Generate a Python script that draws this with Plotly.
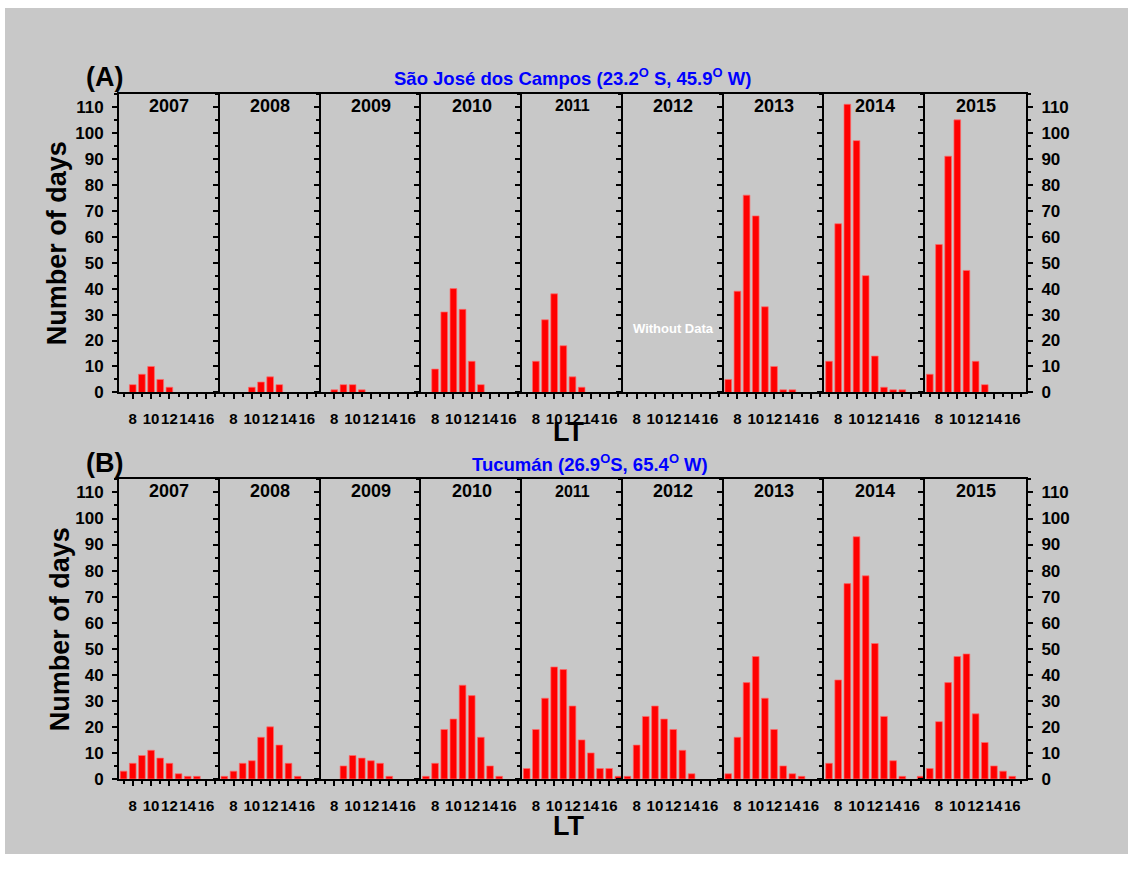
import plotly.graph_objects as go

W, H = 1128, 871

# Local time bins (hours) and years shown in each row of panels
lt_hours = [7, 8, 9, 10, 11, 12, 13, 14, 15, 16, 17]
years = [2007, 2008, 2009, 2010, 2011, 2012, 2013, 2014, 2015]

# São José dos Campos: number of days per LT bin
sjc_2007 = [0, 3, 7, 10, 5, 2, 0, 0, 0, 0, 0]
sjc_2008 = [0, 0, 0, 2, 4, 6, 3, 0, 0, 0, 0]
sjc_2009 = [0, 1, 3, 3, 1, 0, 0, 0, 0, 0, 0]
sjc_2010 = [0, 9, 31, 40, 32, 12, 3, 0, 0, 0, 0]
sjc_2011 = [0, 12, 28, 38, 18, 6, 2, 0, 0, 0, 0]
sjc_2012 = None  # no observations
sjc_2013 = [5, 39, 76, 68, 33, 10, 1, 1, 0, 0, 0]
sjc_2014 = [12, 65, 111, 97, 45, 14, 2, 1, 1, 0, 0]
sjc_2015 = [7, 57, 91, 105, 47, 12, 3, 0, 0, 0, 0]

# Tucumán: number of days per LT bin
tuc_2007 = [3, 6, 9, 11, 8, 6, 2, 1, 1, 0, 0]
tuc_2008 = [1, 3, 6, 7, 16, 20, 13, 6, 1, 0, 0]
tuc_2009 = [0, 0, 5, 9, 8, 7, 6, 1, 0, 0, 0]
tuc_2010 = [1, 6, 19, 23, 36, 32, 16, 5, 1, 0, 0]
tuc_2011 = [4, 19, 31, 43, 42, 28, 15, 10, 4, 4, 1]
tuc_2012 = [1, 13, 24, 28, 23, 19, 11, 2, 0, 0, 0]
tuc_2013 = [2, 16, 37, 47, 31, 19, 5, 2, 1, 0, 0]
tuc_2014 = [6, 38, 75, 93, 78, 52, 24, 7, 1, 0, 1]
tuc_2015 = [4, 22, 37, 47, 48, 25, 14, 5, 3, 1, 0]

sjc_counts = [sjc_2007, sjc_2008, sjc_2009, sjc_2010, sjc_2011,
              sjc_2012, sjc_2013, sjc_2014, sjc_2015]
tuc_counts = [tuc_2007, tuc_2008, tuc_2009, tuc_2010, tuc_2011,
              tuc_2012, tuc_2013, tuc_2014, tuc_2015]

row_titles = ["São José dos Campos (23.2<sup>O</sup> S, 45.9<sup>O</sup> W)",
              "Tucumán (26.9<sup>O</sup>S, 65.4<sup>O</sup> W)"]
row_tags = ["(A)", "(B)"]

BG = "#c8c8c8"
FONT = "Liberation Sans, Arial, sans-serif"

# panel geometry in pixels
LEFT, RIGHT = 119, 1026
ROWS = [(95, 397), (485, 788)]
PW = (RIGHT - LEFT) / 9
TITLE_X = [572, 590]
LT_OFFSET = [40, 48]


def fx(p):
    return p / W


def fy(p):
    return 1 - p / H


def label(xp, yp, text, size, color="black", angle=0):
    return dict(x=fx(xp), y=fy(yp), xref="paper", yref="paper",
                text=text, showarrow=False, textangle=angle,
                xanchor="center", yanchor="middle",
                font=dict(family=FONT, size=size, color=color))


fig = go.Figure()
layout = {}
annotations = []

for r, (top, bottom) in enumerate(ROWS):
    counts = sjc_counts if r == 0 else tuc_counts
    for i, yr in enumerate(years):
        k = r * 9 + i + 1
        xa = "x" if k == 1 else f"x{k}"
        ya = "y" if k == 1 else f"y{k}"
        data = counts[i]
        if data is None:
            xs, vs = [], []
        else:
            xs = [h for h, v in zip(lt_hours, data) if v > 0]
            vs = [v for v in data if v > 0]
        fig.add_trace(go.Bar(
            x=xs, y=vs, xaxis=xa, yaxis=ya, width=0.73,
            marker=dict(color="#ff0000", line=dict(color="#ff6a6a", width=0.7)),
            showlegend=False, hoverinfo="x+y",
        ))

        x0 = LEFT + i * PW
        x1 = LEFT + (i + 1) * PW
        layout["xaxis" if k == 1 else f"xaxis{k}"] = dict(
            domain=[fx(x0), fx(x1)], anchor=ya, range=[6.5, 17.5],
            showline=True, linecolor="black", linewidth=2, mirror=True,
            ticks="outside", ticklen=5, tickwidth=2, tickcolor="black",
            tick0=8, dtick=2, tickangle=0,
            minor=dict(ticks="outside", dtick=1, tick0=7, ticklen=3,
                       tickwidth=2, tickcolor="black", showgrid=False),
            tickfont=dict(family=FONT, size=15, color="black", weight="bold"),
            ticklabelstandoff=7,
            showgrid=False, zeroline=False, fixedrange=True,
        )
        last = i == 8
        layout["yaxis" if k == 1 else f"yaxis{k}"] = dict(
            domain=[fy(bottom), fy(top)], anchor=xa, range=[0, 115],
            showline=True, linecolor="black", linewidth=2,
            mirror="ticks" if last else False,
            side="right" if last else "left",
            ticks="outside", ticklen=5, tickwidth=2, tickcolor="black",
            tick0=0, dtick=10,
            minor=dict(ticks="outside", dtick=5, ticklen=3, tickwidth=2,
                       tickcolor="black", showgrid=False),
            showticklabels=(i == 0 or last),
            tickfont=dict(family=FONT, size=17, color="black", weight="bold"),
            ticklabelstandoff=5,
            showgrid=False, zeroline=False, fixedrange=True,
        )

        # year label inside each panel
        annotations.append(label((x0 + x1) / 2, top + 12, f"<b>{yr}</b>",
                                 16 if yr == 2011 else 18))

    # row tag, station title, axis titles
    annotations.append(label(104, top - 17, f"<b>{row_tags[r]}</b>", 27))
    annotations.append(label(TITLE_X[r], top - 17, f"<b>{row_titles[r]}</b>",
                             18.5, "#0000ff"))
    annotations.append(label(57 if r == 0 else 60, (top + bottom) / 2,
                             "<b>Number of days</b>", 27, angle=-90))
    annotations.append(label(568, bottom + LT_OFFSET[r], "<b>LT</b>", 27))

# note for the São José dos Campos 2012 panel
annotations.append(label(LEFT + 5.5 * PW, 332, "<b>Without Data</b>", 13, "white"))

fig.update_layout(
    width=W, height=H,
    margin=dict(l=0, r=0, t=0, b=0),
    paper_bgcolor="white", plot_bgcolor="rgba(0,0,0,0)",
    bargap=0.27,
    annotations=annotations,
    shapes=[dict(type="rect", xref="paper", yref="paper", layer="below",
                 x0=fx(5), x1=1, y0=fy(864), y1=fy(8),
                 fillcolor=BG, line=dict(width=0))],
    **layout,
)

fig.write_html("out.html")
